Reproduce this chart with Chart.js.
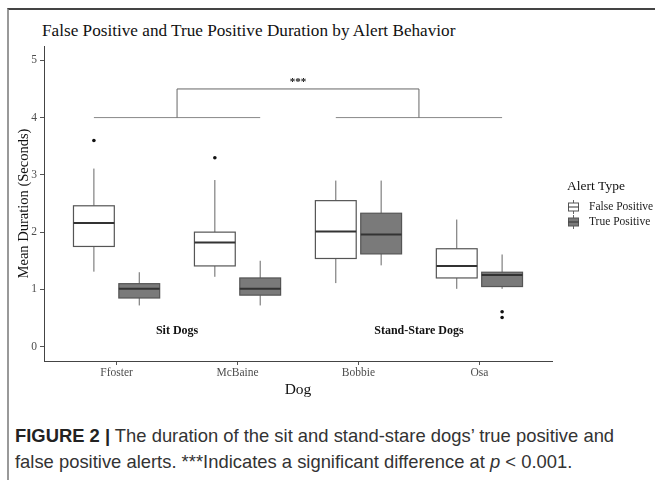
<!DOCTYPE html>
<html>
<head>
<meta charset="utf-8">
<script src="https://cdn.jsdelivr.net/npm/chart.js@4"></script>
<style>
  html, body { margin: 0; padding: 0; background: #fff; }
  body { width: 655px; height: 480px; position: relative; overflow: hidden; }
  #frame {
    position: absolute; left: 7px; top: 8px; width: 660px; height: 480px;
    border-top: 2px solid #444; border-left: 2px solid #999;
  }
  #title {
    position: absolute; left: 42px; top: 21px;
    font: 17.2px "Liberation Serif", serif; color: #111; white-space: nowrap;
  }
  #wrap { position: absolute; left: 0; top: 0; width: 655px; height: 400px; }
  #caption {
    position: absolute; left: 15px; top: 423px; width: 628px;
    font: 18.4px "Liberation Sans", Arial, sans-serif; color: #333; line-height: 26px;
  }
  #caption b { color: #222; }
</style>
</head>
<body>
<div id="frame"></div>
<div id="title">False Positive and True Positive Duration by Alert Behavior</div>
<div id="wrap"><canvas id="chart" width="655" height="400"></canvas></div>
<div id="caption"><b>FIGURE 2 |</b> The duration of the sit and stand-stare dogs’ true positive and false positive alerts. ***Indicates a significant difference at <i>p</i> &lt; 0.001.</div>

<script>
// categories
const dogs = ["Ffoster", "McBaine", "Bobbie", "Osa"];
const yTicks = [0, 1, 2, 3, 4, 5];

// False Positive box stats
const fpLow  = [1.31, 1.22, 1.11, 1.01];
const fpQ1   = [1.75, 1.41, 1.54, 1.20];
const fpMed  = [2.16, 1.82, 2.01, 1.41];
const fpQ3   = [2.46, 2.00, 2.55, 1.71];
const fpHigh = [3.11, 2.91, 2.90, 2.22];
const fpOut  = [[3.60], [3.30], [], []];

// True Positive box stats
const tpLow  = [0.72, 0.72, 1.42, 1.01];
const tpQ1   = [0.85, 0.90, 1.62, 1.05];
const tpMed  = [1.01, 1.01, 1.96, 1.25];
const tpQ3   = [1.10, 1.20, 2.33, 1.30];
const tpHigh = [1.30, 1.50, 2.90, 1.61];
const tpOut  = [[], [], [], [0.61, 0.51]];

// significance bracket + group labels
const groupLabels = ["Sit Dogs", "Stand-Stare Dogs"];
const groupLabelX = [0.5, 2.5];
const groupLabelY = 0.28;
const bracketBase = 4;
const bracketTop = 4.5;
const bracketMark = "***";

const dodge = 0.1875;
const boxW = 0.3375;

const series = [
  { name: "False Positive", fill: "#ffffff", low: fpLow, q1: fpQ1, med: fpMed, q3: fpQ3, high: fpHigh, out: fpOut, off: -dodge },
  { name: "True Positive",  fill: "#7a7a7a", low: tpLow, q1: tpQ1, med: tpMed, q3: tpQ3, high: tpHigh, out: tpOut, off: dodge }
];

const outlierData = [];
series.forEach(s => s.out.forEach((vals, i) => vals.forEach(v => outlierData.push({ x: i + s.off, y: v }))));

const serif = "'Liberation Serif', serif";

const boxPlugin = {
  id: "boxes",
  beforeDatasetsDraw(chart) {
    const { ctx, scales: { x, y } } = chart;
    ctx.save();
    // bracket
    const gl = [0, 1].map(g => 2 * g + 0.5);
    ctx.strokeStyle = "#888";
    ctx.lineWidth = 1;
    [[-dodge, 1 + dodge], [2 - dodge, 3 + dodge]].forEach(([a, b]) => {
      ctx.beginPath();
      ctx.moveTo(x.getPixelForValue(a), y.getPixelForValue(bracketBase));
      ctx.lineTo(x.getPixelForValue(b), y.getPixelForValue(bracketBase));
      ctx.stroke();
    });
    ctx.strokeStyle = "#666";
    ctx.beginPath();
    ctx.moveTo(x.getPixelForValue(gl[0]), y.getPixelForValue(bracketBase));
    ctx.lineTo(x.getPixelForValue(gl[0]), y.getPixelForValue(bracketTop));
    ctx.lineTo(x.getPixelForValue(gl[1]), y.getPixelForValue(bracketTop));
    ctx.lineTo(x.getPixelForValue(gl[1]), y.getPixelForValue(bracketBase));
    ctx.stroke();
    ctx.fillStyle = "#111";
    ctx.font = "bold 11px " + serif;
    ctx.textAlign = "center";
    ctx.textBaseline = "middle";
    ctx.fillText(bracketMark, x.getPixelForValue((gl[0] + gl[1]) / 2), y.getPixelForValue(bracketTop + 0.12));

    // boxes
    series.forEach(s => {
      dogs.forEach((d, i) => {
        const cx = x.getPixelForValue(i + s.off);
        const l = x.getPixelForValue(i + s.off - boxW / 2);
        const r = x.getPixelForValue(i + s.off + boxW / 2);
        const yq1 = y.getPixelForValue(s.q1[i]);
        const yq3 = y.getPixelForValue(s.q3[i]);
        ctx.strokeStyle = "#666";
        ctx.lineWidth = 1;
        ctx.beginPath();
        ctx.moveTo(cx, y.getPixelForValue(s.high[i])); ctx.lineTo(cx, yq3);
        ctx.moveTo(cx, yq1); ctx.lineTo(cx, y.getPixelForValue(s.low[i]));
        ctx.stroke();
        ctx.fillStyle = s.fill;
        ctx.fillRect(l, yq3, r - l, yq1 - yq3);
        ctx.strokeStyle = "#555";
        ctx.lineWidth = 1.2;
        ctx.strokeRect(l, yq3, r - l, yq1 - yq3);
        ctx.strokeStyle = "#333";
        ctx.lineWidth = 2;
        ctx.beginPath();
        const ym = y.getPixelForValue(s.med[i]);
        ctx.moveTo(l, ym); ctx.lineTo(r, ym);
        ctx.stroke();
      });
    });

    // group labels
    ctx.fillStyle = "#111";
    ctx.font = "bold 12px " + serif;
    groupLabels.forEach((t, k) => {
      ctx.fillText(t, x.getPixelForValue(groupLabelX[k]), y.getPixelForValue(groupLabelY));
    });
    ctx.restore();
  },
  afterDraw(chart) {
    const { ctx } = chart;
    ctx.save();
    ctx.fillStyle = "#111";
    ctx.font = "13.5px " + serif;
    ctx.textBaseline = "middle";
    ctx.fillText("Alert Type", 567, 186);
    series.forEach((s, k) => {
      const yc = 207 + k * 15;
      ctx.strokeStyle = "#666";
      ctx.lineWidth = 1;
      ctx.beginPath();
      ctx.moveTo(573.5, yc - 7); ctx.lineTo(573.5, yc + 7);
      ctx.stroke();
      ctx.fillStyle = s.fill;
      ctx.fillRect(568.5, yc - 4, 10, 8);
      ctx.strokeStyle = "#555";
      ctx.strokeRect(568.5, yc - 4, 10, 8);
      ctx.strokeStyle = "#333";
      ctx.beginPath();
      ctx.moveTo(568.5, yc); ctx.lineTo(578.5, yc);
      ctx.stroke();
      ctx.fillStyle = "#222";
      ctx.font = "11.5px " + serif;
      ctx.fillText(s.name, 589, yc);
    });
    ctx.restore();
  }
};

new Chart(document.getElementById("chart"), {
  type: "scatter",
  data: {
    datasets: [{
      label: "Outliers",
      data: outlierData,
      pointRadius: 1.8,
      pointBackgroundColor: "#111",
      pointBorderWidth: 0
    }]
  },
  options: {
    responsive: false,
    animation: false,
    layout: { padding: { left: 11, right: 103, top: 46, bottom: 0 } },
    plugins: { legend: { display: false }, tooltip: { enabled: false }, title: { display: false } },
    scales: {
      x: {
        type: "linear",
        min: -0.6, max: 3.6,
        afterBuildTicks: s => { s.ticks = dogs.map((d, i) => ({ value: i })); },
        afterFit: s => { s.height = 39; },
        ticks: { callback: v => dogs[v], color: "#4d4d4d", font: { family: serif, size: 11.5 }, padding: 1, maxRotation: 0 },
        grid: { drawOnChartArea: false, drawTicks: true, tickLength: 4, color: "#555" },
        border: { display: true, color: "#444", width: 1 },
        title: { display: true, text: "Dog", color: "#111", font: { family: serif, size: 15.5 }, padding: { top: 0, bottom: 1 } }
      },
      y: {
        type: "linear",
        min: -0.25, max: 5.25,
        afterBuildTicks: s => { s.ticks = yTicks.map(v => ({ value: v })); },
        afterFit: s => { s.width = 33; },
        ticks: { color: "#4d4d4d", font: { family: serif, size: 11.5 }, padding: 3 },
        grid: { drawOnChartArea: false, drawTicks: true, tickLength: 4, color: "#555" },
        border: { display: true, color: "#444", width: 1 },
        title: { display: true, text: "Mean Duration (Seconds)", color: "#111", font: { family: serif, size: 14.5 }, padding: { top: 4, bottom: 0 } }
      }
    }
  },
  plugins: [boxPlugin]
});
</script>
</body>
</html>
